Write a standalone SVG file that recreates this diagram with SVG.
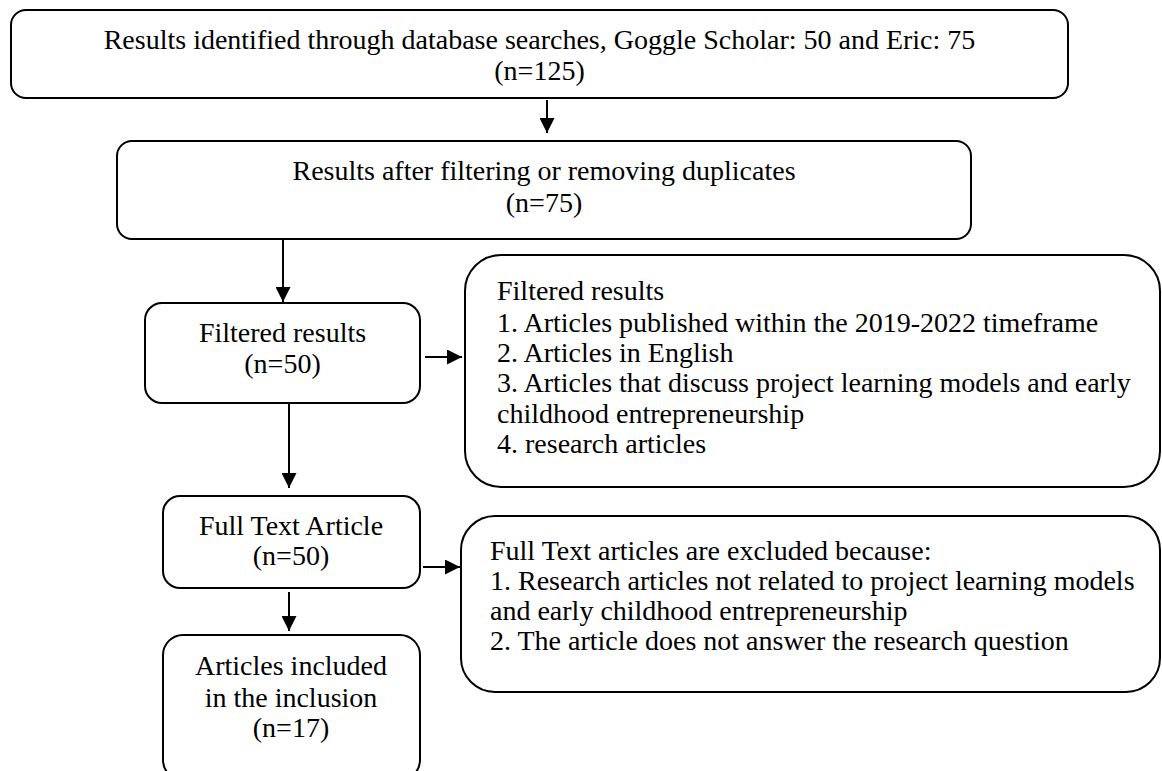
<svg xmlns="http://www.w3.org/2000/svg" width="1162" height="771" viewBox="0 0 1162 771">
<defs>
<style>
.box{fill:#fff;stroke:#000;stroke-width:2}
.t{font-family:"Liberation Serif","Times New Roman",serif;font-size:28px;fill:#000}
.c{text-anchor:middle}
.ln{stroke:#000;stroke-width:2;fill:none}
</style>
<marker id="ah" viewBox="0 0 10 10" refX="10" refY="5" markerWidth="7.5" markerHeight="7.5" markerUnits="strokeWidth" orient="auto">
<path d="M0,0 L10,5 L0,10 Z" fill="#000"/>
</marker>
</defs>
<rect width="1162" height="771" fill="#fff"/>
<g id="connectors">
<line class="ln" x1="547" y1="100" x2="547" y2="133" marker-end="url(#ah)"/>
<line class="ln" x1="283" y1="240" x2="283" y2="302" marker-end="url(#ah)"/>
<line class="ln" x1="289" y1="404" x2="289" y2="488" marker-end="url(#ah)"/>
<line class="ln" x1="289" y1="592" x2="289" y2="631" marker-end="url(#ah)"/>
<line class="ln" x1="425" y1="357" x2="462" y2="357" marker-end="url(#ah)"/>
<line class="ln" x1="423" y1="567" x2="460" y2="567" marker-end="url(#ah)"/>
</g>
<g id="n1">
<rect class="box" x="11" y="10" width="1057" height="88" rx="15"/>
<text class="t c" x="539.5" y="49">Results identified through database searches, Goggle Scholar: 50 and Eric: 75</text>
<text class="t c" x="539.5" y="80">(n=125)</text>
</g>
<g id="n2">
<rect class="box" x="117" y="141" width="854" height="98" rx="15"/>
<text class="t c" x="544" y="180">Results after filtering or removing duplicates</text>
<text class="t c" x="544" y="212">(n=75)</text>
</g>
<g id="n3">
<rect class="box" x="145" y="303" width="275" height="100" rx="17"/>
<text class="t c" x="282.5" y="342">Filtered results</text>
<text class="t c" x="282.5" y="373">(n=50)</text>
</g>
<g id="n4">
<rect class="box" x="465" y="255" width="695" height="232" rx="36"/>
<text class="t" x="497" y="300">Filtered results</text>
<text class="t" x="497" y="332">1. Articles published within the 2019-2022 timeframe</text>
<text class="t" x="497" y="362">2. Articles in English</text>
<text class="t" x="497" y="392">3. Articles that discuss project learning models and early</text>
<text class="t" x="497" y="423">childhood entrepreneurship</text>
<text class="t" x="497" y="453">4. research articles</text>
</g>
<g id="n5">
<rect class="box" x="163" y="496" width="257" height="92" rx="17"/>
<text class="t c" x="291" y="535">Full Text Article</text>
<text class="t c" x="291" y="565">(n=50)</text>
</g>
<g id="n6">
<rect class="box" x="461" y="516" width="699" height="176" rx="34"/>
<text class="t" x="490" y="560">Full Text articles are excluded because:</text>
<text class="t" x="490" y="590">1. Research articles not related to project learning models</text>
<text class="t" x="490" y="620">and early childhood entrepreneurship</text>
<text class="t" x="490" y="650">2. The article does not answer the research question</text>
</g>
<g id="n7">
<rect class="box" x="163" y="635" width="257" height="145" rx="20"/>
<text class="t c" x="291" y="675">Articles included</text>
<text class="t c" x="291" y="707">in the inclusion</text>
<text class="t c" x="291" y="737">(n=17)</text>
</g>
</svg>
